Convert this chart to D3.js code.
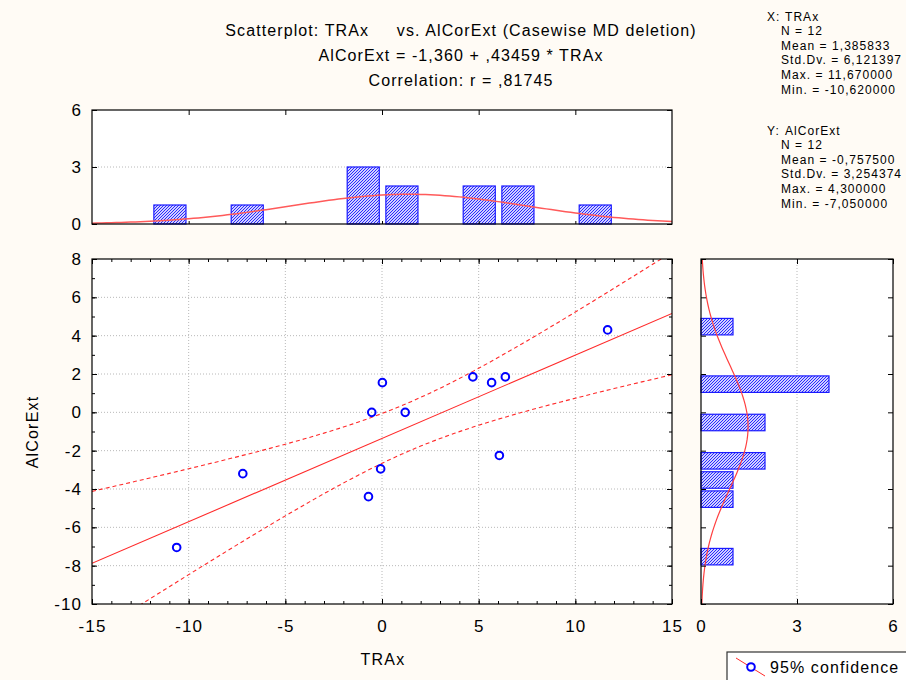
<!DOCTYPE html>
<html>
<head>
<meta charset="utf-8">
<script src="https://cdn.jsdelivr.net/npm/d3@7"></script>
<style>
  body { margin: 0; background: #fffbf5; }
  text { font-family: Arial, "Liberation Sans", sans-serif; fill: #000; }
</style>
</head>
<body>
<div id="chart"></div>
<script>
// values
var traX     = [-10.62, -7.2, -0.7, -0.53, -0.07, 0.02, 1.2, 4.7, 5.67, 6.07, 6.38, 11.67];
var alCorExt = [-7.05, -3.2, -4.4, 0, -2.95, 1.55, 0, 1.85, 1.55, -2.25, 1.85, 4.3];

// histogram of TRAx (bin lower edge, width 2)
var xBinLo    = [-12, -8, -2, 0, 4, 6, 10];
var xBinCount = [1, 1, 3, 2, 2, 2, 1];
// histogram of AlCorExt (bin lower edge, width 1)
var yBinLo    = [4, 1, -1, -3, -4, -5, -8];
var yBinCount = [1, 4, 2, 2, 1, 1, 1];

// summary numbers printed on the chart
var nCases = 12;
var xMean = 1.385833, xSd = 6.121397;
var yMean = -0.7575,  ySd = 3.254374;
var intercept = -1.360, slope = 0.43459, corr = 0.81745;

var titleLines = [
  "Scatterplot: TRAx     vs. AlCorExt (Casewise MD deletion)",
  "AlCorExt = -1,360 + ,43459 * TRAx",
  "Correlation: r = ,81745"
];
var xStatLines = ["N = 12", "Mean = 1,385833", "Std.Dv. = 6,121397", "Max. = 11,670000", "Min. = -10,620000"];
var yStatLines = ["N = 12", "Mean = -0,757500", "Std.Dv. = 3,254374", "Max. = 4,300000", "Min. = -7,050000"];

var xTicks = [-15, -10, -5, 0, 5, 10, 15];
var yTicks = [-10, -8, -6, -4, -2, 0, 2, 4, 6, 8];
var histTicks = [0, 3, 6];

var W = 906, H = 680;
var svg = d3.select("#chart").append("svg")
    .attr("width", W).attr("height", H);

svg.append("rect").attr("width", W).attr("height", H).attr("fill", "#fffbf5");

// hatch pattern for the bars
var defs = svg.append("defs");
var pat = defs.append("pattern")
    .attr("id", "hatch")
    .attr("patternUnits", "userSpaceOnUse")
    .attr("width", 3).attr("height", 3);
pat.append("rect").attr("width", 3).attr("height", 3).attr("fill", "#d0d0ff");
pat.append("path")
    .attr("d", "M-1,1 L1,-1 M0,3 L3,0 M2,4 L4,2")
    .attr("stroke", "#2a2aff").attr("stroke-width", 1);

// panel boxes
var main = {l: 92, r: 672, t: 259, b: 604};
var top_ = {l: 92, r: 672, t: 110, b: 224};
var side = {l: 701, r: 893, t: 259, b: 604};

var x = d3.scaleLinear().domain([-15, 15]).range([main.l, main.r]);
var y = d3.scaleLinear().domain([-10, 8]).range([main.b, main.t]);
var yTop = d3.scaleLinear().domain([0, 6]).range([top_.b, top_.t]);
var xSide = d3.scaleLinear().domain([0, 6]).range([side.l, side.r]);

var plain = function(d) { return String(d); };   // keep the ASCII hyphen

function panelBg(p) {
  svg.append("rect")
    .attr("x", p.l).attr("y", p.t)
    .attr("width", p.r - p.l).attr("height", p.b - p.t)
    .attr("fill", "#fff");
}
function panelFrame(p) {
  svg.append("rect")
    .attr("x", p.l).attr("y", p.t)
    .attr("width", p.r - p.l).attr("height", p.b - p.t)
    .attr("fill", "none").attr("stroke", "#000").attr("stroke-width", 1.2);
}
function grid(g) {
  g.attr("stroke", "#b8b8b8").attr("stroke-dasharray", "1,2").attr("stroke-width", 1);
}
// inward ticks with no domain line
function ticks(axis, transform, labels) {
  var g = svg.append("g").attr("transform", transform).call(axis.tickFormat(plain));
  g.select(".domain").remove();
  g.selectAll(".tick line").attr("stroke", "#000");
  g.selectAll("text")
    .style("font-size", "17px")
    .style("letter-spacing", "1.1px")
    .style("font-family", "Arial, 'Liberation Sans', sans-serif");
  if (!labels) g.selectAll("text").remove();
  return g;
}

panelBg(main); panelBg(top_); panelBg(side);

// ---- title
svg.selectAll(".title")
  .data(titleLines)
  .enter().append("text")
    .attr("class", "title")
    .attr("x", 461)
    .attr("y", function(d, i) { return 36 + i * 25; })
    .attr("text-anchor", "middle")
    .style("font-size", "16px")
    .style("letter-spacing", "1.1px")
    .style("white-space", "pre")
    .text(function(d) { return d; });

// ---- stats block
function statBlock(head, name, lines, y0) {
  var g = svg.append("g").style("font-size", "12px").style("letter-spacing", "1.05px");
  g.append("text").attr("x", 767).attr("y", y0).text(head);
  g.append("text").attr("x", 785).attr("y", y0).text(name);
  g.selectAll(".ln").data(lines).enter().append("text")
    .attr("x", 781)
    .attr("y", function(d, i) { return y0 + (i + 1) * 14.6; })
    .text(function(d) { return d; });
}
statBlock("X:", "TRAx", xStatLines, 20.5);
statBlock("Y:", "AlCorExt", yStatLines, 134.5);

// ---- main scatter
grid(svg.append("g").selectAll("line")
  .data(xTicks.filter(function(d) { return d > -15 && d < 15; }))
  .enter().append("line")
    .attr("x1", x).attr("x2", x).attr("y1", main.t).attr("y2", main.b));
grid(svg.append("g").selectAll("line")
  .data(yTicks.filter(function(d) { return d > -10 && d < 8; }))
  .enter().append("line")
    .attr("y1", y).attr("y2", y).attr("x1", main.l).attr("x2", main.r));

defs.append("clipPath").attr("id", "clipMain")
  .append("rect").attr("x", main.l).attr("y", main.t)
  .attr("width", main.r - main.l).attr("height", main.b - main.t);

// regression line and 95% confidence band for the mean
var n = nCases;
var sRes = ySd * Math.sqrt((1 - corr * corr) * (n - 1) / (n - 2));
var sxx = (n - 1) * xSd * xSd;
var tCrit = 2.228139;
var xs = d3.range(-15, 15.01, 0.25);
function band(sign) {
  return xs.map(function(v) {
    var yh = intercept + slope * v;
    var se = sRes * Math.sqrt(1 / n + (v - xMean) * (v - xMean) / sxx);
    return [v, yh + sign * tCrit * se];
  });
}
var line = d3.line().x(function(d) { return x(d[0]); }).y(function(d) { return y(d[1]); });
var fits = svg.append("g").attr("clip-path", "url(#clipMain)");
fits.append("path")
  .attr("d", line([[-15, intercept - 15 * slope], [15, intercept + 15 * slope]]))
  .attr("fill", "none").attr("stroke", "#ff2a2a").attr("stroke-width", 1.1);
[1, -1].forEach(function(s) {
  fits.append("path")
    .attr("d", line(band(s)))
    .attr("fill", "none").attr("stroke", "#ff2a2a").attr("stroke-width", 1.1)
    .attr("stroke-dasharray", "4,3");
});

svg.append("g").selectAll("circle")
  .data(d3.zip(traX, alCorExt))
  .enter().append("circle")
    .attr("cx", function(d) { return x(d[0]); })
    .attr("cy", function(d) { return y(d[1]); })
    .attr("r", 3.8)
    .attr("fill", "none").attr("stroke", "#0000ff").attr("stroke-width", 2);

// ticks, main
var minorX = d3.range(-15, 16, 1), minorY = d3.range(-10, 9, 1);
ticks(d3.axisBottom(x).tickValues(minorX).tickSize(-3), "translate(0," + main.b + ")", false);
ticks(d3.axisTop(x).tickValues(minorX).tickSize(-3), "translate(0," + main.t + ")", false);
ticks(d3.axisBottom(x).tickValues(xTicks).tickSize(-5).tickPadding(16), "translate(0," + main.b + ")", true);
ticks(d3.axisTop(x).tickValues(xTicks).tickSize(-5), "translate(0," + main.t + ")", false);
ticks(d3.axisLeft(y).tickValues(minorY).tickSize(-3), "translate(" + main.l + ",0)", false);
ticks(d3.axisRight(y).tickValues(minorY).tickSize(-3), "translate(" + main.r + ",0)", false);
ticks(d3.axisLeft(y).tickValues(yTicks).tickSize(-5).tickPadding(10), "translate(" + main.l + ",0)", true);
ticks(d3.axisRight(y).tickValues(yTicks).tickSize(-5), "translate(" + main.r + ",0)", false);
panelFrame(main);

svg.append("text")
  .attr("x", 383).attr("y", 665)
  .attr("text-anchor", "middle")
  .style("font-size", "16px").style("letter-spacing", "1.2px")
  .text("TRAx");
svg.append("text")
  .attr("transform", "translate(38,432) rotate(-90)")
  .attr("text-anchor", "middle")
  .style("font-size", "16px").style("letter-spacing", "1.2px")
  .text("AlCorExt");

// ---- top histogram (TRAx)
grid(svg.append("line")
  .attr("x1", top_.l).attr("x2", top_.r).attr("y1", yTop(3)).attr("y2", yTop(3)));
svg.append("g").selectAll("rect")
  .data(d3.zip(xBinLo, xBinCount))
  .enter().append("rect")
    .attr("x", function(d) { return x(d[0] + 0.2); })
    .attr("width", function(d) { return x(d[0] + 1.86) - x(d[0] + 0.2); })
    .attr("y", function(d) { return yTop(d[1]); })
    .attr("height", function(d) { return yTop(0) - yTop(d[1]); })
    .attr("fill", "url(#hatch)").attr("stroke", "#1a1aff").attr("stroke-width", 1.2);

function normal(v, m, s) {
  return Math.exp(-0.5 * ((v - m) / s) * ((v - m) / s)) / (s * Math.sqrt(2 * Math.PI));
}
svg.append("path")
  .datum(d3.range(-15, 15.01, 0.25))
  .attr("d", d3.line()
    .x(function(v) { return x(v); })
    .y(function(v) { return yTop(nCases * 2 * normal(v, xMean, xSd)); }))
  .attr("fill", "none").attr("stroke", "#ff5a5a").attr("stroke-width", 1.5);

ticks(d3.axisTop(x).tickValues([-10, -5, 0, 5, 10]).tickSize(-5), "translate(0," + top_.t + ")", false);
ticks(d3.axisBottom(x).tickValues([-10, -5, 0, 5, 10]).tickSize(-3), "translate(0," + top_.b + ")", false);
ticks(d3.axisLeft(yTop).tickValues(histTicks).tickSize(-5).tickPadding(10), "translate(" + top_.l + ",0)", true);
ticks(d3.axisRight(yTop).tickValues(histTicks).tickSize(-5), "translate(" + top_.r + ",0)", false);
panelFrame(top_);

// ---- side histogram (AlCorExt)
grid(svg.append("line")
  .attr("x1", xSide(3)).attr("x2", xSide(3)).attr("y1", side.t).attr("y2", side.b));
svg.append("g").selectAll("rect")
  .data(d3.zip(yBinLo, yBinCount))
  .enter().append("rect")
    .attr("x", xSide(0))
    .attr("width", function(d) { return xSide(d[1]) - xSide(0); })
    .attr("y", function(d) { return y(d[0] + 0.9); })
    .attr("height", function(d) { return y(d[0] + 0.04) - y(d[0] + 0.9); })
    .attr("fill", "url(#hatch)").attr("stroke", "#1a1aff").attr("stroke-width", 1.2);

svg.append("path")
  .datum(d3.range(-10, 8.01, 0.2))
  .attr("d", d3.line()
    .x(function(v) { return xSide(nCases * 1 * normal(v, yMean, ySd)); })
    .y(function(v) { return y(v); }))
  .attr("fill", "none").attr("stroke", "#ff4040").attr("stroke-width", 1.2);

ticks(d3.axisBottom(xSide).tickValues(histTicks).tickSize(-5).tickPadding(16), "translate(0," + side.b + ")", true);
ticks(d3.axisTop(xSide).tickValues(histTicks).tickSize(-5), "translate(0," + side.t + ")", false);
ticks(d3.axisLeft(y).tickValues(yTicks).tickSize(-5), "translate(" + side.l + ",0)", false);
ticks(d3.axisRight(y).tickValues(yTicks).tickSize(-5), "translate(" + side.r + ",0)", false);
panelFrame(side);

// ---- legend (runs off the page edge like the original)
var leg = svg.append("g");
leg.append("rect")
  .attr("x", 727).attr("y", 652).attr("width", 220).attr("height", 50)
  .attr("fill", "#fff").attr("stroke", "#333").attr("stroke-width", 1.2);
leg.append("line")
  .attr("x1", 736).attr("y1", 658).attr("x2", 765).attr("y2", 676)
  .attr("stroke", "#ff2a2a").attr("stroke-width", 1);
leg.append("circle")
  .attr("cx", 751).attr("cy", 667).attr("r", 3.8)
  .attr("fill", "#fff").attr("stroke", "#0000ff").attr("stroke-width", 2);
leg.append("text")
  .attr("x", 770).attr("y", 673)
  .style("font-size", "16px").style("letter-spacing", "1.1px")
  .text("95% confidence");
</script>
</body>
</html>
